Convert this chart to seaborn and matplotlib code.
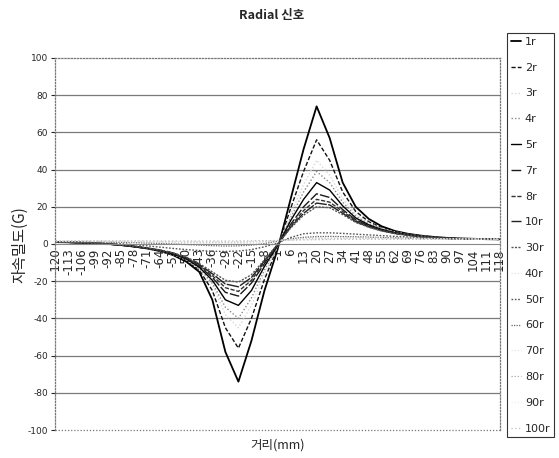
import pandas as pd
import seaborn as sns
import matplotlib.pyplot as plt

# 거리(mm) – category positions shown on the axis
x_mm = [-120, -113, -106, -99, -92, -85, -78, -71, -64, -57, -50, -43, -36, -29, -22, -15, -8, -1,
        6, 13, 20, 27, 34, 41, 48, 55, 62, 69, 76, 83, 90, 97, 104, 111, 118]

series_names = ['1r', '2r', '3r', '4r', '5r', '7r', '8r', '10r',
                '30r', '40r', '50r', '60r', '70r', '80r', '90r', '100r']

# 자속밀도(G)
v_1r = [1.0, 0.9, 0.7, 0.4, 0.0, -0.6, -1.4, -2.4, -3.8, -6.0, -9.5, -15, -30, -58, -74, -52, -25, -3,
        24, 51, 74, 57, 33, 20, 13.5, 9.5, 7.0, 5.5, 4.5, 3.8, 3.3, 3.0, 2.8, 2.6, 2.5]
v_2r = [1.0, 0.9, 0.7, 0.4, 0.0, -0.6, -1.4, -2.4, -3.8, -5.8, -9.0, -14, -25, -45, -56, -40, -19, -2,
        19, 39, 56, 45, 28, 17.5, 12, 8.8, 6.7, 5.3, 4.4, 3.7, 3.2, 2.9, 2.7, 2.6, 2.5]
v_3r = [1.0, 0.9, 0.7, 0.4, 0.0, -0.6, -1.4, -2.4, -3.7, -5.6, -8.6, -13.5, -22, -38, -45, -33, -16, -1.5,
        16, 32, 45, 37, 24.5, 16, 11.3, 8.4, 6.5, 5.2, 4.3, 3.6, 3.1, 2.9, 2.7, 2.6, 2.5]
v_4r = [1.0, 0.9, 0.7, 0.4, 0.0, -0.6, -1.4, -2.4, -3.7, -5.5, -8.3, -13, -21, -34, -40, -29, -14, -1.2,
        14, 28, 39, 33, 22.5, 15, 10.8, 8.1, 6.3, 5.1, 4.2, 3.6, 3.1, 2.8, 2.7, 2.6, 2.5]
v_5r = [1.0, 0.9, 0.7, 0.4, 0.0, -0.6, -1.4, -2.3, -3.6, -5.4, -8.0, -12.5, -19.5, -30, -33, -25, -12, -1.0,
        12.5, 24, 33, 29, 20.5, 14, 10.3, 7.8, 6.1, 5.0, 4.1, 3.5, 3.1, 2.8, 2.7, 2.6, 2.5]
v_7r = [1.0, 0.9, 0.7, 0.4, 0.0, -0.6, -1.3, -2.3, -3.5, -5.2, -7.7, -12, -18, -26, -28, -21, -10.5, -0.6,
        10.5, 20, 27, 25, 18.5, 13, 9.8, 7.5, 5.9, 4.9, 4.0, 3.5, 3.0, 2.8, 2.7, 2.6, 2.5]
v_8r = [1.0, 0.9, 0.7, 0.4, 0.0, -0.6, -1.3, -2.2, -3.4, -5.0, -7.5, -11.5, -17, -23.5, -25.5, -19.5, -9.5, -0.4,
        9.5, 18, 24, 22.5, 17.5, 12.5, 9.5, 7.3, 5.8, 4.8, 4.0, 3.4, 3.0, 2.8, 2.7, 2.6, 2.5]
v_10r = [1.0, 0.9, 0.7, 0.4, 0.0, -0.6, -1.3, -2.2, -3.3, -4.9, -7.3, -11, -16, -21.5, -23, -18, -9.0, -0.3,
         9.0, 16.5, 22, 21, 16.5, 12, 9.2, 7.1, 5.7, 4.7, 3.9, 3.4, 3.0, 2.8, 2.7, 2.6, 2.5]
v_30r = [1.0, 0.9, 0.7, 0.4, 0.0, -0.5, -1.2, -2.1, -3.2, -4.8, -7.0, -10.5, -15, -19.5, -20.5, -16.5, -8.5, -0.2,
         8.5, 15.5, 20, 19.5, 15.8, 11.6, 9.0, 7.0, 5.6, 4.6, 3.9, 3.4, 3.0, 2.8, 2.7, 2.6, 2.5]
v_40r = [1.3, 1.3, 1.3, 1.2, 1.2, 1.1, 1.0, 0.9, 0.8, 0.6, 0.4, 0.2, 0.0, -0.1, 0.0, 0.3, 0.8, 1.6,
         2.5, 3.1, 3.5, 3.7, 3.7, 3.6, 3.5, 3.4, 3.2, 3.1, 3.0, 2.9, 2.8, 2.7, 2.7, 2.6, 2.6]
v_50r = [1.2, 1.1, 1.0, 0.8, 0.5, 0.1, -0.4, -1.0, -1.7, -2.4, -3.0, -3.5, -3.9, -4.0, -3.8, -3.0, -1.5, 0.5,
         3.5, 5.5, 6.0, 6.0, 5.7, 5.3, 4.9, 4.5, 4.1, 3.8, 3.5, 3.2, 3.0, 2.8, 2.7, 2.6, 2.5]
v_60r = [1.2, 1.2, 1.1, 1.1, 1.0, 0.9, 0.7, 0.5, 0.3, 0.0, -0.3, -0.6, -0.9, -1.1, -1.0, -0.6, 0.2, 1.5,
         2.8, 3.6, 4.0, 4.1, 4.0, 3.9, 3.7, 3.5, 3.3, 3.1, 3.0, 2.9, 2.8, 2.7, 2.6, 2.5, 2.5]
v_70r = [1.4, 1.4, 1.4, 1.4, 1.3, 1.3, 1.2, 1.2, 1.1, 1.0, 0.9, 0.8, 0.7, 0.6, 0.7, 0.9, 1.2, 1.7,
         2.3, 2.7, 3.0, 3.2, 3.3, 3.3, 3.3, 3.2, 3.1, 3.0, 3.0, 2.9, 2.8, 2.8, 2.7, 2.7, 2.6]
v_80r = [1.5, 1.5, 1.5, 1.5, 1.5, 1.4, 1.4, 1.4, 1.3, 1.3, 1.2, 1.2, 1.1, 1.1, 1.1, 1.3, 1.5, 1.8,
         2.2, 2.5, 2.7, 2.9, 3.0, 3.0, 3.0, 3.0, 2.9, 2.9, 2.8, 2.8, 2.8, 2.7, 2.7, 2.7, 2.6]
v_90r = [1.6, 1.6, 1.6, 1.6, 1.6, 1.6, 1.5, 1.5, 1.5, 1.5, 1.4, 1.4, 1.4, 1.4, 1.4, 1.5, 1.6, 1.9,
         2.1, 2.3, 2.5, 2.6, 2.7, 2.7, 2.7, 2.7, 2.7, 2.7, 2.7, 2.7, 2.6, 2.6, 2.6, 2.6, 2.6]
v_100r = [1.7, 1.7, 1.7, 1.7, 1.7, 1.7, 1.7, 1.7, 1.6, 1.6, 1.6, 1.6, 1.6, 1.6, 1.6, 1.7, 1.8, 1.9,
          2.1, 2.2, 2.3, 2.4, 2.5, 2.5, 2.5, 2.5, 2.5, 2.5, 2.5, 2.5, 2.5, 2.5, 2.5, 2.5, 2.5]

values = [v_1r, v_2r, v_3r, v_4r, v_5r, v_7r, v_8r, v_10r,
          v_30r, v_40r, v_50r, v_60r, v_70r, v_80r, v_90r, v_100r]

# line look per series (colour, dash pattern, width)
styles = [
    ('#000000', '-', 1.3),
    ('#111111', (0, (3, 1.5)), 1.0),
    ('#d8d8d8', (0, (1, 1.5)), 1.0),
    ('#8a8a8a', (0, (1, 1.5)), 1.0),
    ('#000000', '-', 1.0),
    ('#1a1a1a', (0, (7, 1.5)), 1.0),
    ('#333333', (0, (3, 1.2)), 1.0),
    ('#222222', (0, (9, 1)), 1.0),
    ('#555555', (0, (1.5, 1)), 1.0),
    ('#e0e0e0', (0, (1, 1.5)), 0.9),
    ('#555555', (0, (1.2, 1.2)), 1.0),
    ('#666666', (0, (1, 1)), 0.9),
    ('#e6e6e6', (0, (1, 1.5)), 0.9),
    ('#aaaaaa', (0, (1, 1.5)), 0.9),
    ('#eeeeee', (0, (1, 1.5)), 0.9),
    ('#bbbbbb', (0, (1, 2)), 0.9),
]

sns.set_style('white')
plt.rcParams['font.family'] = ['Noto Sans CJK KR', 'DejaVu Sans']
plt.rcParams['axes.unicode_minus'] = False

fig = plt.figure(figsize=(5.59, 4.58), dpi=100)
ax = fig.add_axes([0.0984, 0.0611, 0.7961, 0.8123])

for name, vals, (col, ls, lw) in zip(series_names, values, styles):
    sns.lineplot(x=x_mm, y=vals, ax=ax, color=col, linestyle=ls, linewidth=lw, label=name)

# x axis crosses at 0 (move spine before styling ticks, it resets them)
ax.spines['bottom'].set_position(('data', 0))
ax.spines['bottom'].set_color('#888888')
ax.spines['bottom'].set_linewidth(0.8)
for s in ['top', 'left', 'right']:
    ax.spines[s].set_visible(True)
    ax.spines[s].set_color('#777777')
    ax.spines[s].set_linewidth(0.9)
    ax.spines[s].set_linestyle((0, (1, 1.5)))

ax.set_xlim(-120.5, 118.5)
ax.set_ylim(-100, 100)
ax.set_yticks(range(-100, 101, 20))
ax.set_xticks(x_mm)
ax.set_xticklabels([str(v) for v in x_mm])
ax.tick_params(axis='x', length=0, pad=3, labelrotation=90, labelsize=8.5)
ax.tick_params(axis='y', length=3, labelsize=6.5, pad=2, direction='out', left=True)
for t in ax.get_xticklabels():
    t.set_family(['DejaVu Sans'])
for t in ax.get_yticklabels():
    t.set_family(['Liberation Sans Narrow', 'DejaVu Sans'])

# horizontal grid lines
for g in [-80, -60, -40, -20, 20, 40, 60, 80]:
    ax.axhline(g, color='#7a7a7a', lw=0.9, zorder=0)
ax.axhline(-100, color='#777777', lw=0.9, ls=(0, (1, 1.5)), zorder=0, clip_on=False)

ax.set_xlabel('')
ax.set_ylabel('')
fig.text(272 / 559, 1 - 16 / 458, 'Radial 신호', ha='center', va='center', fontsize=9, fontweight='bold')
fig.text(20 / 559, 1 - 245 / 458, '자속밀도(G)', ha='center', va='center', rotation=90, fontsize=11)
fig.text(278 / 559, 1 - 445 / 458, '거리(mm)', ha='center', va='center', fontsize=9)

ax.get_legend().remove()
handles, labels = ax.get_legend_handles_labels()
leg = fig.legend(handles, labels, loc='upper left', bbox_to_anchor=(507 / 559, 1 - 33 / 458),
                 fontsize=8, frameon=True, fancybox=False, borderaxespad=0, handlelength=0.9,
                 handletextpad=0.35, labelspacing=1.42, borderpad=0.35)
leg.get_frame().set_edgecolor('#000000')
leg.get_frame().set_linewidth(0.8)
for t in leg.get_texts():
    t.set_family(['Liberation Sans Narrow', 'DejaVu Sans'])

plt.savefig('out.png', dpi=100)
